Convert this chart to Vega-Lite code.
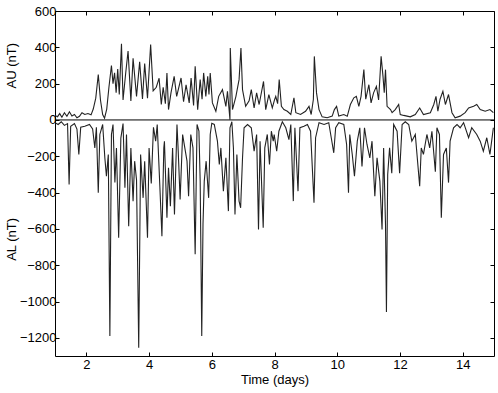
{
"$schema":"https://vega.github.io/schema/vega-lite/v6.json",
"width":439,"height":345,
"autosize":"none",
"padding":{"left":55,"top":11,"right":4,"bottom":37},
"background":"white",
"config":{
 "view":{"stroke":"#000","strokeWidth":1},
 "axis":{"labelFont":"Liberation Sans","labelFontSize":13,"labelColor":"#000","tickColor":"#000","titleFont":"Liberation Sans","titleFontSize":13,"titleFontWeight":"normal","titleColor":"#000","grid":false,"domain":false}
},
"datasets":{
"AU":[
{"t":1.00,"v":25},{"t":1.08,"v":18},{"t":1.15,"v":35},{"t":1.22,"v":15},{"t":1.30,"v":40},{"t":1.38,"v":20},{"t":1.46,"v":45},{"t":1.54,"v":22},{"t":1.62,"v":30},{"t":1.70,"v":12},{"t":1.78,"v":20},{"t":1.86,"v":40},{"t":1.95,"v":30},{"t":2.05,"v":35},{"t":2.15,"v":28},{"t":2.22,"v":60},{"t":2.30,"v":120},{"t":2.38,"v":250},{"t":2.45,"v":110},{"t":2.52,"v":30},{"t":2.58,"v":10},{"t":2.65,"v":60},{"t":2.72,"v":180},{"t":2.80,"v":300},{"t":2.85,"v":200},{"t":2.90,"v":260},{"t":2.95,"v":150},{"t":3.00,"v":280},{"t":3.05,"v":140},{"t":3.12,"v":420},{"t":3.17,"v":110},{"t":3.25,"v":250},{"t":3.33,"v":380},{"t":3.42,"v":105},{"t":3.49,"v":340},{"t":3.60,"v":130},{"t":3.70,"v":320},{"t":3.79,"v":115},{"t":3.86,"v":310},{"t":3.95,"v":120},{"t":4.05,"v":415},{"t":4.13,"v":160},{"t":4.23,"v":180},{"t":4.32,"v":230},{"t":4.39,"v":85},{"t":4.45,"v":180},{"t":4.52,"v":90},{"t":4.57,"v":259},{"t":4.62,"v":57},{"t":4.70,"v":150},{"t":4.80,"v":240},{"t":4.88,"v":130},{"t":5.02,"v":231},{"t":5.10,"v":100},{"t":5.18,"v":194},{"t":5.28,"v":94},{"t":5.34,"v":231},{"t":5.42,"v":80},{"t":5.47,"v":295},{"t":5.55,"v":57},{"t":5.63,"v":222},{"t":5.69,"v":114},{"t":5.74,"v":259},{"t":5.81,"v":130},{"t":5.87,"v":240},{"t":5.91,"v":140},{"t":5.95,"v":259},{"t":6.02,"v":94},{"t":6.13,"v":48},{"t":6.22,"v":130},{"t":6.34,"v":167},{"t":6.45,"v":75},{"t":6.50,"v":158},{"t":6.58,"v":2},{"t":6.59,"v":396},{"t":6.66,"v":57},{"t":6.77,"v":130},{"t":6.87,"v":222},{"t":6.93,"v":396},{"t":6.98,"v":167},{"t":7.08,"v":75},{"t":7.19,"v":105},{"t":7.26,"v":167},{"t":7.35,"v":66},{"t":7.43,"v":149},{"t":7.51,"v":85},{"t":7.65,"v":212},{"t":7.72,"v":57},{"t":7.82,"v":140},{"t":7.93,"v":66},{"t":8.00,"v":110},{"t":8.04,"v":130},{"t":8.10,"v":90},{"t":8.15,"v":222},{"t":8.22,"v":75},{"t":8.30,"v":57},{"t":8.41,"v":48},{"t":8.52,"v":30},{"t":8.62,"v":122},{"t":8.68,"v":40},{"t":8.83,"v":30},{"t":8.99,"v":48},{"t":9.10,"v":75},{"t":9.17,"v":30},{"t":9.24,"v":114},{"t":9.27,"v":350},{"t":9.34,"v":149},{"t":9.42,"v":57},{"t":9.52,"v":17},{"t":9.68,"v":12},{"t":9.84,"v":21},{"t":9.91,"v":57},{"t":9.98,"v":75},{"t":10.05,"v":21},{"t":10.21,"v":30},{"t":10.32,"v":20},{"t":10.42,"v":85},{"t":10.53,"v":122},{"t":10.61,"v":130},{"t":10.69,"v":75},{"t":10.76,"v":130},{"t":10.85,"v":277},{"t":10.91,"v":114},{"t":11.01,"v":194},{"t":11.08,"v":94},{"t":11.16,"v":149},{"t":11.25,"v":185},{"t":11.32,"v":110},{"t":11.40,"v":350},{"t":11.46,"v":240},{"t":11.50,"v":150},{"t":11.54,"v":277},{"t":11.59,"v":75},{"t":11.70,"v":57},{"t":11.75,"v":40},{"t":11.85,"v":57},{"t":11.96,"v":85},{"t":12.01,"v":30},{"t":12.12,"v":25},{"t":12.33,"v":17},{"t":12.49,"v":30},{"t":12.63,"v":66},{"t":12.75,"v":30},{"t":12.97,"v":40},{"t":13.08,"v":85},{"t":13.15,"v":130},{"t":13.21,"v":48},{"t":13.28,"v":114},{"t":13.37,"v":158},{"t":13.45,"v":85},{"t":13.55,"v":140},{"t":13.66,"v":40},{"t":13.76,"v":12},{"t":13.92,"v":21},{"t":14.08,"v":40},{"t":14.19,"v":66},{"t":14.35,"v":75},{"t":14.45,"v":85},{"t":14.56,"v":57},{"t":14.72,"v":48},{"t":14.87,"v":57},{"t":14.98,"v":40}
],
"AL":[
{"t":1.00,"v":-15},{"t":1.10,"v":-25},{"t":1.20,"v":-10},{"t":1.30,"v":-30},{"t":1.40,"v":-20},{"t":1.45,"v":-355},{"t":1.50,"v":-35},{"t":1.62,"v":-20},{"t":1.70,"v":-50},{"t":1.76,"v":-190},{"t":1.82,"v":-40},{"t":1.95,"v":-35},{"t":2.10,"v":-25},{"t":2.20,"v":-50},{"t":2.27,"v":-154},{"t":2.32,"v":-40},{"t":2.38,"v":-401},{"t":2.43,"v":-80},{"t":2.52,"v":-25},{"t":2.59,"v":-210},{"t":2.64,"v":-310},{"t":2.70,"v":-190},{"t":2.75,"v":-1190},{"t":2.80,"v":-80},{"t":2.85,"v":-25},{"t":2.91,"v":-345},{"t":2.96,"v":-154},{"t":3.03,"v":-649},{"t":3.10,"v":-100},{"t":3.17,"v":-20},{"t":3.23,"v":-374},{"t":3.28,"v":-80},{"t":3.35,"v":-585},{"t":3.42,"v":-154},{"t":3.49,"v":-447},{"t":3.54,"v":-227},{"t":3.60,"v":-330},{"t":3.67,"v":-1254},{"t":3.73,"v":-190},{"t":3.81,"v":-429},{"t":3.86,"v":-227},{"t":3.95,"v":-649},{"t":4.00,"v":-154},{"t":4.07,"v":-350},{"t":4.14,"v":-40},{"t":4.21,"v":-117},{"t":4.26,"v":-25},{"t":4.34,"v":-350},{"t":4.41,"v":-640},{"t":4.47,"v":-154},{"t":4.49,"v":-117},{"t":4.57,"v":-539},{"t":4.62,"v":-264},{"t":4.68,"v":-475},{"t":4.75,"v":-154},{"t":4.81,"v":-520},{"t":4.89,"v":-25},{"t":4.93,"v":-172},{"t":4.99,"v":-438},{"t":5.07,"v":-80},{"t":5.14,"v":-154},{"t":5.21,"v":-227},{"t":5.26,"v":-420},{"t":5.33,"v":-80},{"t":5.40,"v":-154},{"t":5.47,"v":-740},{"t":5.53,"v":-25},{"t":5.59,"v":-62},{"t":5.63,"v":-337},{"t":5.68,"v":-1190},{"t":5.72,"v":-575},{"t":5.76,"v":-337},{"t":5.82,"v":-227},{"t":5.90,"v":-429},{"t":5.95,"v":-80},{"t":6.00,"v":-18},{"t":6.08,"v":-25},{"t":6.18,"v":-117},{"t":6.24,"v":-245},{"t":6.29,"v":-154},{"t":6.37,"v":-392},{"t":6.45,"v":-209},{"t":6.53,"v":-502},{"t":6.58,"v":-43},{"t":6.64,"v":-10},{"t":6.69,"v":-154},{"t":6.74,"v":-520},{"t":6.80,"v":-190},{"t":6.87,"v":-447},{"t":6.92,"v":-484},{"t":6.98,"v":-209},{"t":7.03,"v":-43},{"t":7.14,"v":-25},{"t":7.26,"v":-43},{"t":7.35,"v":-172},{"t":7.43,"v":-80},{"t":7.49,"v":-603},{"t":7.54,"v":-117},{"t":7.64,"v":-594},{"t":7.69,"v":-154},{"t":7.77,"v":-80},{"t":7.84,"v":-245},{"t":7.90,"v":-62},{"t":7.96,"v":-117},{"t":7.99,"v":-80},{"t":8.07,"v":-172},{"t":8.14,"v":-62},{"t":8.25,"v":-10},{"t":8.36,"v":-43},{"t":8.46,"v":-108},{"t":8.52,"v":-25},{"t":8.60,"v":-447},{"t":8.65,"v":-43},{"t":8.75,"v":-392},{"t":8.81,"v":-43},{"t":8.94,"v":-35},{"t":9.05,"v":-25},{"t":9.15,"v":-62},{"t":9.26,"v":-456},{"t":9.31,"v":-98},{"t":9.42,"v":-15},{"t":9.58,"v":-25},{"t":9.73,"v":-15},{"t":9.81,"v":-98},{"t":9.89,"v":-181},{"t":9.95,"v":-43},{"t":10.05,"v":-15},{"t":10.21,"v":-25},{"t":10.30,"v":-135},{"t":10.36,"v":-401},{"t":10.40,"v":-80},{"t":10.48,"v":-190},{"t":10.55,"v":-310},{"t":10.64,"v":-117},{"t":10.72,"v":-43},{"t":10.79,"v":-256},{"t":10.87,"v":-43},{"t":10.95,"v":-135},{"t":11.04,"v":-209},{"t":11.11,"v":-117},{"t":11.20,"v":-420},{"t":11.27,"v":-209},{"t":11.36,"v":-337},{"t":11.43,"v":-603},{"t":11.48,"v":-154},{"t":11.54,"v":-575},{"t":11.57,"v":-1057},{"t":11.61,"v":-300},{"t":11.67,"v":-154},{"t":11.74,"v":-293},{"t":11.80,"v":-25},{"t":11.91,"v":-62},{"t":11.99,"v":-293},{"t":12.07,"v":-25},{"t":12.17,"v":-10},{"t":12.28,"v":-25},{"t":12.38,"v":-117},{"t":12.49,"v":-80},{"t":12.63,"v":-365},{"t":12.68,"v":-154},{"t":12.75,"v":-190},{"t":12.86,"v":-80},{"t":12.95,"v":-154},{"t":13.02,"v":-62},{"t":13.13,"v":-285},{"t":13.18,"v":-43},{"t":13.26,"v":-80},{"t":13.32,"v":-539},{"t":13.39,"v":-190},{"t":13.48,"v":-154},{"t":13.55,"v":-345},{"t":13.60,"v":-117},{"t":13.71,"v":-43},{"t":13.82,"v":-25},{"t":13.92,"v":-43},{"t":14.03,"v":-15},{"t":14.19,"v":-98},{"t":14.29,"v":-43},{"t":14.45,"v":-80},{"t":14.56,"v":-117},{"t":14.66,"v":-172},{"t":14.77,"v":-98},{"t":14.87,"v":-190},{"t":14.98,"v":-43}
],
"one":[{"k":1}]
},
"resolve":{"axis":{"x":"independent","y":"independent"}},
"layer":[
 {"data":{"name":"AU"},
  "mark":{"type":"line","color":"#222","strokeWidth":1.1,"clip":true},
  "encoding":{
   "x":{"field":"t","type":"quantitative","scale":{"domain":[1,15],"nice":false,"zero":false},
        "axis":{"orient":"bottom","values":[2,4,6,8,10,12,14],"tickSize":-4,"labelPadding":6,"title":"Time (days)","titlePadding":2}},
   "y":{"field":"v","type":"quantitative","scale":{"domain":[-1300,600],"nice":false,"zero":false},
        "axis":{"orient":"left","values":[-1200,-1000,-800,-600,-400,-200,0,200,400,600],"format":"d","tickSize":-4,"labelPadding":3,"title":null}}
  }},
 {"data":{"name":"AL"},
  "mark":{"type":"line","color":"#222","strokeWidth":1.1,"clip":true},
  "encoding":{
   "x":{"field":"t","type":"quantitative","axis":{"orient":"top","values":[2,4,6,8,10,12,14],"tickSize":-4,"labels":false,"title":null}},
   "y":{"field":"v","type":"quantitative","axis":{"orient":"right","values":[-1200,-1000,-800,-600,-400,-200,0,200,400,600],"tickSize":-4,"labels":false,"title":null}}
  }},
 {"data":{"name":"one"},
  "mark":{"type":"rule","color":"#000","strokeWidth":1},
  "encoding":{"y":{"datum":0,"type":"quantitative","axis":null}}},
 {"data":{"name":"one"},
  "mark":{"type":"text","angle":270,"font":"Liberation Sans","fontSize":13,"color":"#000","align":"center","baseline":"middle"},
  "encoding":{"x":{"datum":-0.38,"type":"quantitative","axis":null},"y":{"datum":299,"type":"quantitative","axis":null},"text":{"value":"AU (nT)"}}},
 {"data":{"name":"one"},
  "mark":{"type":"text","angle":270,"font":"Liberation Sans","fontSize":13,"color":"#000","align":"center","baseline":"middle"},
  "encoding":{"x":{"datum":-0.38,"type":"quantitative","axis":null},"y":{"datum":-658,"type":"quantitative","axis":null},"text":{"value":"AL (nT)"}}}
]
}
